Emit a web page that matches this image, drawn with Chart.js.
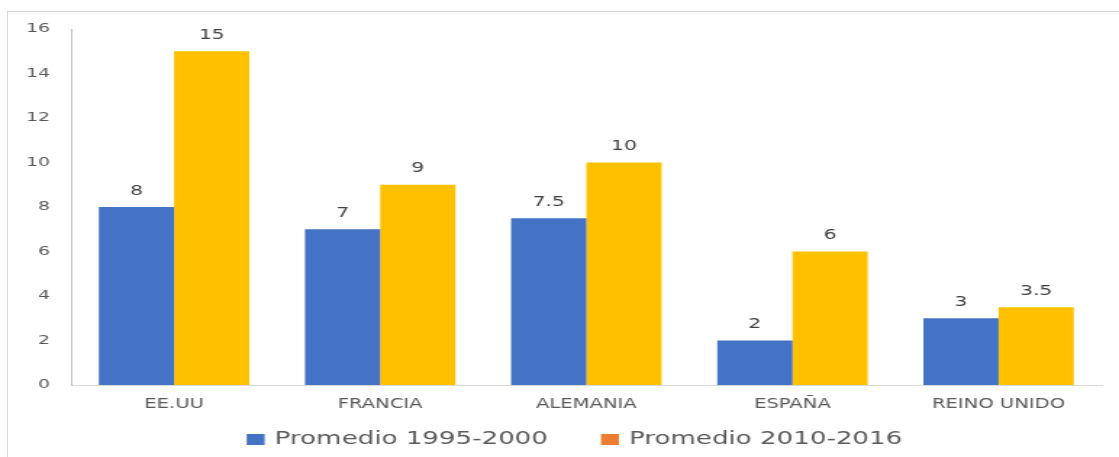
<!DOCTYPE html>
<html>
<head>
<meta charset="utf-8">
<script src="https://cdn.jsdelivr.net/npm/chart.js@4"></script>
<style>
  html, body { margin: 0; padding: 0; background: #fff; }
  #wrap { position: relative; width: 1119px; height: 457px; overflow: hidden; }
  #frame { position: absolute; left: 7px; top: 11px; width: 1200px; height: 600px; border: 1px solid #d9d9d9; }
  /* the original picture is stretched sideways, so the canvas is too */
  #chart { position: absolute; left: 0; top: 0; width: 772px; height: 457px;
           transform: scaleX(1.4495); transform-origin: 0 0; }
</style>
</head>
<body>
<div id="wrap">
  <div id="frame"></div>
  <canvas id="chart" width="772" height="457"></canvas>
</div>
<script>
/* ── Data ─────────────────────────────────────────────────────────────── */
const categories   = ['EE.UU', 'FRANCIA', 'ALEMANIA', 'ESPAÑA', 'REINO UNIDO'];
const seriesNames  = ['Promedio 1995-2000', 'Promedio 2010-2016'];
const promedio9500 = [8, 7, 7.5, 2, 3];
const promedio1016 = [15, 9, 10, 6, 3.5];
const yTicks       = [0, 2, 4, 6, 8, 10, 12, 14, 16];

const FONT = '"DejaVu Sans", Verdana, sans-serif';
const BAR_COLORS    = ['#4472C4', '#FFC000'];
const LEGEND_COLORS = ['#4472C4', '#ED7D31'];   // legend swatch is orange in the original

// value labels above each bar
const barLabels = {
  id: 'barLabels',
  afterDatasetsDraw(chart) {
    const ctx = chart.ctx;
    ctx.save();
    ctx.font = '14px ' + FONT;
    ctx.fillStyle = '#404040';
    ctx.textAlign = 'center';
    ctx.textBaseline = 'middle';
    chart.data.datasets.forEach((ds, i) => {
      chart.getDatasetMeta(i).data.forEach((bar, j) => {
        ctx.fillText(String(ds.data[j]), bar.x, bar.y - 16);
      });
    });
    ctx.restore();
  }
};

// bottom legend, spaced like the original
const bottomLegend = {
  id: 'bottomLegend',
  afterDraw(chart) {
    const ctx = chart.ctx;
    const box = 12.4, gap = 7, spacing = 36.6, cy = 439.5, centre = 396.3;
    ctx.save();
    ctx.font = '18px ' + FONT;
    ctx.textBaseline = 'middle';
    const names = chart.data.datasets.map(ds => ds.label);
    const widths = names.map(t => ctx.measureText(t).width);
    const total = widths.reduce((a, w) => a + box + gap + w, 0) + spacing * (names.length - 1);
    let x = centre - total / 2;
    names.forEach((t, i) => {
      ctx.fillStyle = LEGEND_COLORS[i];
      ctx.fillRect(x, cy - 5.5, box, 11);
      ctx.fillStyle = '#595959';
      ctx.fillText(t, x + box + gap, cy);
      x += box + gap + widths[i] + spacing;
    });
    ctx.restore();
  }
};

new Chart(document.getElementById('chart'), {
  type: 'bar',
  data: {
    labels: categories,
    datasets: [
      { label: seriesNames[0], data: promedio9500, backgroundColor: BAR_COLORS[0] },
      { label: seriesNames[1], data: promedio1016, backgroundColor: BAR_COLORS[1] }
    ]
  },
  options: {
    responsive: false,
    animation: false,
    devicePixelRatio: 1,
    categoryPercentage: 0.73,
    barPercentage: 1,
    layout: { padding: { top: 29, right: 12, left: 0, bottom: 36 } },
    plugins: {
      tooltip: { enabled: false },
      legend: { display: false }
    },
    scales: {
      x: {
        grid: { display: false, drawTicks: false },
        border: { color: '#d9d9d9' },
        ticks: { font: { family: FONT, size: 13.5 }, color: '#595959', padding: 11 },
        afterFit: s => { s.height = 36; }
      },
      y: {
        min: 0, max: 16,
        afterBuildTicks: s => { s.ticks = yTicks.map(v => ({ value: v })); },
        grid: { display: false, drawTicks: false },
        border: { color: '#bfbfbf' },
        ticks: { font: { family: FONT, size: 13 }, color: '#595959', padding: 14.5 },
        afterFit: s => { s.width = 49; }
      }
    }
  },
  plugins: [barLabels, bottomLegend]
});
</script>
</body>
</html>
